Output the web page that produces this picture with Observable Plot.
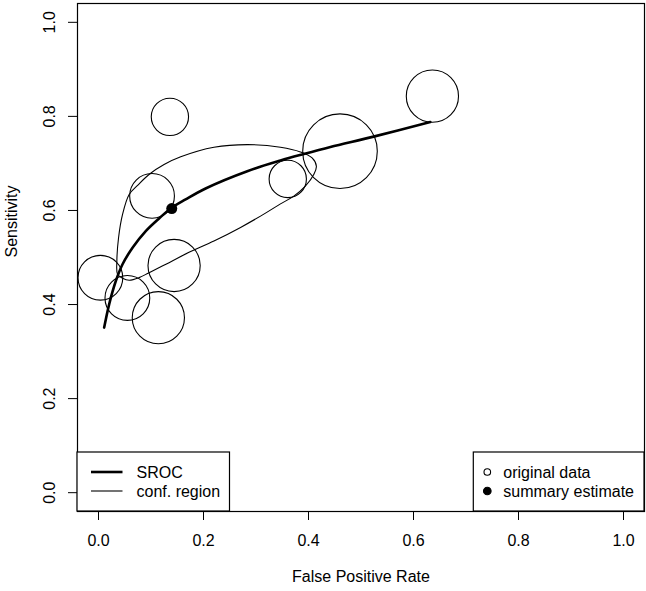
<!DOCTYPE html>
<html><head><meta charset="utf-8">
<script src="https://cdn.jsdelivr.net/npm/d3@7"></script>
<script src="https://cdn.jsdelivr.net/npm/@observablehq/plot@0.6"></script>
<style>body{margin:0;background:#fff} svg{font-family:"Liberation Sans",Arial,sans-serif}</style>
</head><body><div id="chart"></div>
<script>
// Study data (false positive rate, sensitivity, relative study weight)
const studyFpr    = [0.136, 0.636, 0.460, 0.3605, 0.102, 0.144, 0.0036, 0.055, 0.114];
const studySens   = [0.799, 0.843, 0.726, 0.667, 0.631, 0.483, 0.457, 0.414, 0.372];
const studyWeight = [50, 70, 100, 50, 60, 70, 60, 60, 70];

// Summary estimate
const summaryFpr = 0.1395;
const summarySens = 0.604;

// SROC curve
const srocFpr  = [0.0108, 0.0204, 0.033, 0.0458, 0.0648, 0.090, 0.1154, 0.1376, 0.166, 0.204, 0.2834, 0.3466, 0.391, 0.4417, 0.524, 0.632];
const srocSens = [0.351, 0.401, 0.450, 0.4856, 0.5208, 0.5562, 0.5831, 0.6043, 0.6234, 0.6467, 0.6834, 0.7061, 0.720, 0.735, 0.757, 0.788];

// Confidence region (closed)
const confFpr  = [0.0458, 0.0363, 0.035, 0.0382, 0.0458, 0.0584, 0.075, 0.0968, 0.1249, 0.1566, 0.2199, 0.2834, 0.3466, 0.3846, 0.4069, 0.415, 0.410, 0.394, 0.372, 0.3466, 0.3086, 0.2706, 0.2199, 0.1724, 0.1344, 0.0964, 0.0774, 0.0584];
const confSens = [0.456, 0.4644, 0.4926, 0.542, 0.5916, 0.634, 0.654, 0.677, 0.6976, 0.714, 0.7343, 0.740, 0.7343, 0.7243, 0.7116, 0.694, 0.6764, 0.6516, 0.6304, 0.614, 0.588, 0.564, 0.535, 0.511, 0.489, 0.4678, 0.4572, 0.4517];

// Axis ticks and titles
const xTicks = [0, 0.2, 0.4, 0.6, 0.8, 1.0];
const yTicks = [0, 0.2, 0.4, 0.6, 0.8, 1.0];
const xTitle = "False Positive Rate";
const yTitle = "Sensitivity";

const studies = studyFpr.map((x, i) => ({x, y: studySens[i], w: studyWeight[i]}));
const sroc = srocFpr.map((x, i) => ({x, y: srocSens[i]}));
const conf = confFpr.map((x, i) => ({x, y: confSens[i]}));
const summary = [{x: summaryFpr, y: summarySens}];

const W = 646, H = 591;
const mL = 77, mR = 2, mT = 3, mB = 80;
const font = "Liberation Sans, Arial, sans-serif";

const chart = Plot.plot({
  width: W, height: H,
  marginLeft: mL, marginRight: mR, marginTop: mT, marginBottom: mB,
  style: {fontFamily: font, fontSize: "16px", color: "black", background: "white"},
  x: {domain: [-0.04, 1.04]},
  y: {domain: [-0.04, 1.04]},
  r: {type: "linear", domain: [0, 100], range: [0, 37.3]},
  marks: [
    Plot.frame({stroke: "black", strokeWidth: 1.2}),
    Plot.axisX({ticks: xTicks, tickFormat: d3.format(".1f"), tickSize: 9, tickPadding: 14, fontSize: 16, label: null}),
    Plot.axisY({ticks: yTicks, tickFormat: d3.format(".1f"), tickSize: 9, tickPadding: 14, tickRotate: -90, fontSize: 16, label: null}),
    Plot.text([xTitle], {text: d => d, frameAnchor: "bottom", dy: 65, lineAnchor: "middle", fontSize: 16, fill: "black"}),
    Plot.text([yTitle], {text: d => d, frameAnchor: "left", dx: -66, rotate: -90, lineAnchor: "middle", fontSize: 16, fill: "black"}),
    Plot.line(conf, {x: "x", y: "y", curve: "catmull-rom-closed", stroke: "black", strokeWidth: 1.1}),
    Plot.line(sroc, {x: "x", y: "y", curve: "catmull-rom", stroke: "black", strokeWidth: 2.6}),
    Plot.dot(studies, {x: "x", y: "y", r: "w", stroke: "black", strokeWidth: 1.1, fill: "none"}),
    Plot.dot(summary, {x: "x", y: "y", r: 5.5, fill: "black", stroke: "none"})
  ]
});

document.getElementById("chart").appendChild(chart);

// Legends (R-style boxes in the bottom corners)
const svg = d3.select(chart);
const bottom = H - mB;
const g = svg.append("g").attr("font-family", font).attr("font-size", 16).attr("fill", "black")
  .attr("text-anchor", "start");
// left legend
const lg = g.append("g");
lg.append("rect").attr("x", mL).attr("y", bottom - 59).attr("width", 152.5).attr("height", 59)
  .attr("fill", "white").attr("stroke", "black").attr("stroke-width", 1.2);
const leftItems = [{label: "SROC", sw: 2.6}, {label: "conf. region", sw: 1.1}];
leftItems.forEach((d, i) => {
  const yy = bottom - 39 + i * 19;
  lg.append("line").attr("x1", mL + 14).attr("x2", mL + 45.5).attr("y1", yy).attr("y2", yy)
    .attr("stroke", "black").attr("stroke-width", d.sw);
  lg.append("text").attr("x", mL + 59.5).attr("y", yy).attr("dy", "0.35em").attr("text-anchor", "start").text(d.label);
});
// right legend
const rg = g.append("g");
const rx0 = 473.3;
rg.append("rect").attr("x", rx0).attr("y", bottom - 59).attr("width", W - mR - rx0).attr("height", 59)
  .attr("fill", "white").attr("stroke", "black").attr("stroke-width", 1.2);
const rightItems = [{label: "original data", filled: false}, {label: "summary estimate", filled: true}];
rightItems.forEach((d, i) => {
  const yy = bottom - 39 + i * 19;
  rg.append("circle").attr("cx", rx0 + 14).attr("cy", yy).attr("r", d.filled ? 3.8 : 3.3)
    .attr("fill", d.filled ? "black" : "none").attr("stroke", "black").attr("stroke-width", 1.1);
  rg.append("text").attr("x", rx0 + 30).attr("y", yy).attr("dy", "0.35em").attr("text-anchor", "start").text(d.label);
});
</script>
</body></html>
